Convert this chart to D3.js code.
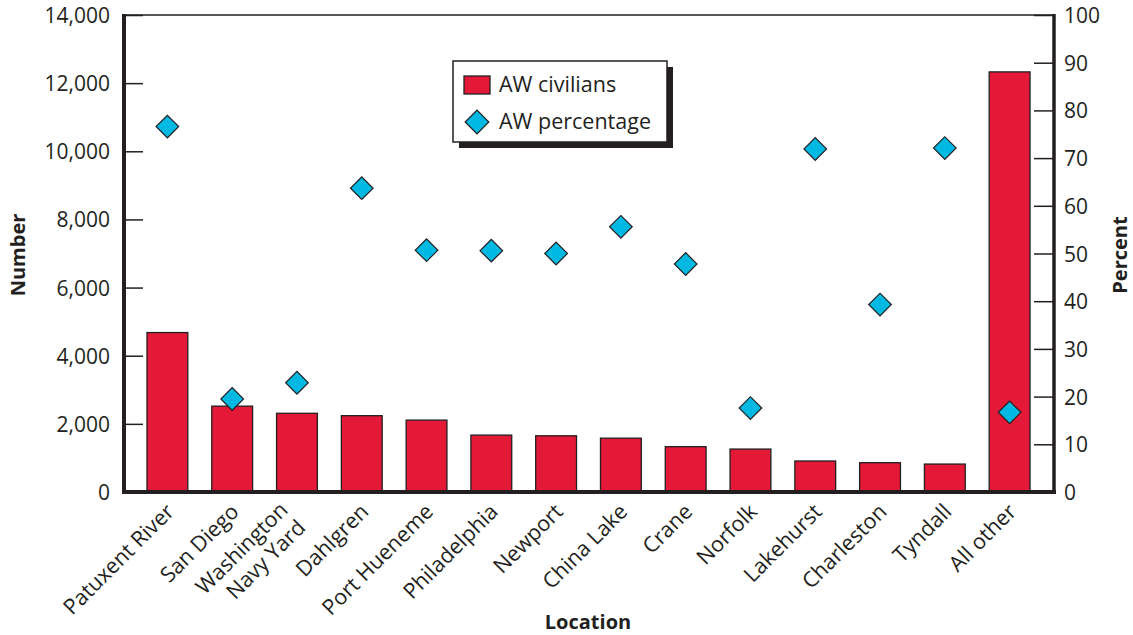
<!DOCTYPE html>
<html><head><meta charset="utf-8">
<script src="https://cdn.jsdelivr.net/npm/d3@7/dist/d3.min.js"></script>
<style>
html,body{margin:0;padding:0;background:#fff;}
text{font-family:"Open Sans",sans-serif;fill:#231f20;}
</style></head>
<body>
<svg id="chart" width="1133" height="635"></svg>
<script>
const categories = ["Patuxent River","San Diego","Washington\nNavy Yard","Dahlgren","Port Hueneme","Philadelphia","Newport","China Lake","Crane","Norfolk","Lakehurst","Charleston","Tyndall","All other"];
const civilians = [4680, 2520, 2310, 2240, 2110, 1670, 1650, 1580, 1330, 1260, 910, 860, 820, 12330];
const percentage = [76.6, 19.5, 22.9, 63.7, 50.7, 50.6, 50.0, 55.6, 47.8, 17.6, 71.9, 39.3, 72.1, 16.7];
const leftTicks = [0, 2000, 4000, 6000, 8000, 10000, 12000, 14000];
const rightTicks = [0, 10, 20, 30, 40, 50, 60, 70, 80, 90, 100];
const seriesNames = ["AW civilians", "AW percentage"];

const RED = "#e31937", CYAN = "#00b9e3", INK = "#231f20";
const svg = d3.select("#chart");
const L = 124, R = 1054, T = 15, B = 492;

const x = d3.scaleBand().domain(categories).range([135, 1042]).paddingInner(0.37).paddingOuter(0.185);
const y = d3.scaleLinear().domain([0, 14000]).range([B, T]);
const y2 = d3.scaleLinear().domain([0, 100]).range([B, T]);

// top border
svg.append("line").attr("x1", L).attr("x2", R).attr("y1", T).attr("y2", T)
  .attr("stroke", INK).attr("stroke-width", 1.5);

// bars
svg.append("g").selectAll("rect").data(categories).join("rect")
  .attr("x", d => x(d)).attr("width", x.bandwidth())
  .attr("y", (d, i) => y(civilians[i])).attr("height", (d, i) => B - y(civilians[i]))
  .attr("fill", RED).attr("stroke", INK).attr("stroke-width", 1.3);

// left axis
const ga = svg.append("g").attr("transform", `translate(${L},0)`)
  .call(d3.axisRight(y).tickValues(leftTicks).tickFormat(d3.format(",")).tickSize(19).tickPadding(0));
ga.select(".domain").remove();
ga.selectAll(".tick line").attr("stroke", INK).attr("stroke-width", 1.5);
ga.selectAll(".tick text").attr("x", -14).attr("text-anchor", "end").attr("font-size", 21)
  .attr("font-family", "Open Sans").attr("fill", INK).attr("dy", "0.36em");

// right axis
const gb = svg.append("g").attr("transform", `translate(${R},0)`)
  .call(d3.axisLeft(y2).tickValues(rightTicks).tickSize(20).tickPadding(0));
gb.select(".domain").remove();
gb.selectAll(".tick line").attr("stroke", INK).attr("stroke-width", 1.5);
gb.selectAll(".tick text").attr("x", 10).attr("text-anchor", "start").attr("font-size", 21)
  .attr("font-family", "Open Sans").attr("fill", INK).attr("dy", "0.36em");

// frame thick lines
svg.append("line").attr("x1", L).attr("x2", L).attr("y1", T - 1).attr("y2", B + 2).attr("stroke", INK).attr("stroke-width", 4);
svg.append("line").attr("x1", R).attr("x2", R).attr("y1", T - 1).attr("y2", B + 2).attr("stroke", INK).attr("stroke-width", 3.5);
svg.append("line").attr("x1", L - 2).attr("x2", R + 2).attr("y1", B).attr("y2", B).attr("stroke", INK).attr("stroke-width", 4);

// diamonds
const diamond = d3.symbol().type(d3.symbolSquare).size(256);
svg.append("g").selectAll("path").data(categories).join("path")
  .attr("d", diamond)
  .attr("transform", (d, i) => `translate(${x(d) + x.bandwidth() / 2},${y2(percentage[i])}) rotate(45)`)
  .attr("fill", CYAN).attr("stroke", INK).attr("stroke-width", 1.2);

// category labels
const lab = svg.append("g").selectAll("text").data(categories).join("text")
  .attr("transform", d => `translate(${x(d) + x.bandwidth() / 2 + 8},${513}) rotate(-45)`)
  .attr("text-anchor", "end").attr("font-size", 21.5);
lab.each(function(d) {
  const lines = d.split("\n");
  const t = d3.select(this);
  lines.forEach((s, i) => {
    const off = lines.length > 1 ? (i - (lines.length - 1) / 2) * 25 : 0;
    t.append("tspan").attr("x", lines.length > 1 ? -10 : 0).attr("y", off).text(s);
  });
});

// axis titles
svg.append("text").attr("x", 588).attr("y", 629).attr("text-anchor", "middle")
  .attr("font-size", 20).attr("font-weight", "bold").text("Location");
svg.append("text").attr("transform", "translate(25,255) rotate(-90)").attr("text-anchor", "middle")
  .attr("font-size", 20).attr("font-weight", "bold").text("Number");
svg.append("text").attr("transform", "translate(1127,255) rotate(-90)").attr("text-anchor", "middle")
  .attr("font-size", 20).attr("font-weight", "bold").text("Percent");

// legend
const lg = svg.append("g");
lg.append("rect").attr("x", 459).attr("y", 67).attr("width", 214).attr("height", 81).attr("fill", INK);
lg.append("rect").attr("x", 453).attr("y", 61).attr("width", 214).attr("height", 81)
  .attr("fill", "#fff").attr("stroke", INK).attr("stroke-width", 1.5);
lg.append("rect").attr("x", 464).attr("y", 76).attr("width", 26).attr("height", 18)
  .attr("fill", RED).attr("stroke", INK).attr("stroke-width", 1.3);
lg.append("path").attr("d", d3.symbol().type(d3.symbolSquare).size(280))
  .attr("transform", "translate(477,122) rotate(45)")
  .attr("fill", CYAN).attr("stroke", INK).attr("stroke-width", 1.2);
lg.append("text").attr("x", 499).attr("y", 92).attr("font-size", 21.5).text(seriesNames[0]);
lg.append("text").attr("x", 499).attr("y", 129).attr("font-size", 21.5).text(seriesNames[1]);
</script>
</body></html>
